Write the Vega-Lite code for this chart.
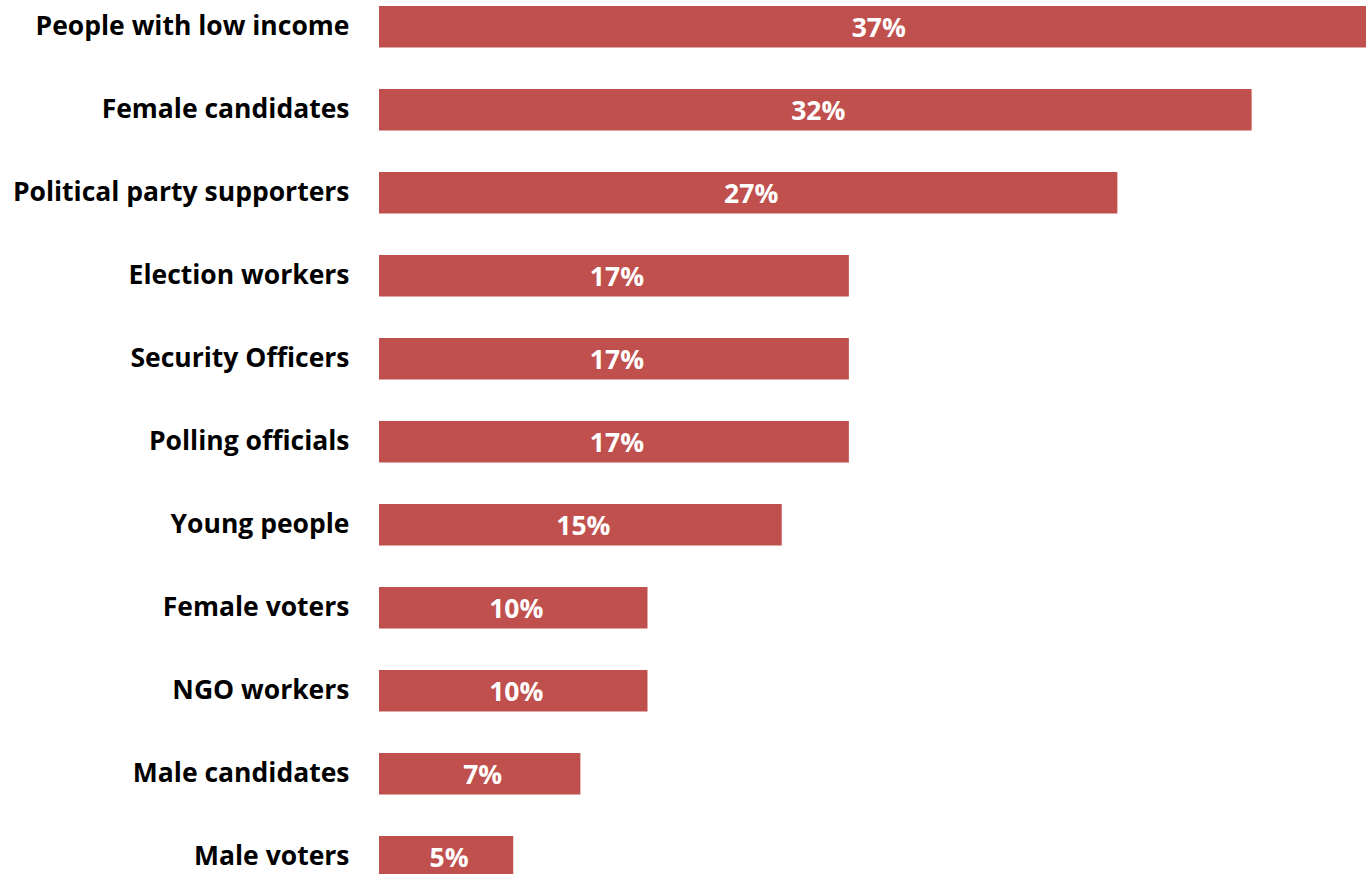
{
  "$schema": "https://vega.github.io/schema/vega-lite/v6.json",
  "autosize": "none",
  "padding": {"left": 379, "top": 0, "right": 0, "bottom": 0},
  "width": 987,
  "height": 874,
  "background": "white",
  "config": {"view": {"stroke": null}, "font": "Open Sans"},
  "data": {"values": [
    {"group": "People with low income", "value": 37, "label": "37%"},
    {"group": "Female candidates", "value": 32.5, "label": "32%"},
    {"group": "Political party supporters", "value": 27.5, "label": "27%"},
    {"group": "Election workers", "value": 17.5, "label": "17%"},
    {"group": "Security Officers", "value": 17.5, "label": "17%"},
    {"group": "Polling officials", "value": 17.5, "label": "17%"},
    {"group": "Young people", "value": 15, "label": "15%"},
    {"group": "Female voters", "value": 10, "label": "10%"},
    {"group": "NGO workers", "value": 10, "label": "10%"},
    {"group": "Male candidates", "value": 7.5, "label": "7%"},
    {"group": "Male voters", "value": 5, "label": "5%"}
  ]},
  "transform": [{"calculate": "datum.value / 2", "as": "mid"}],
  "encoding": {
    "y": {
      "field": "group", "type": "nominal", "sort": null, "title": null,
      "scale": {"range": [0, 883.5], "paddingInner": 0.5, "paddingOuter": 0.0723},
      "axis": {"domain": false, "ticks": false, "labelPadding": 30, "labelFontSize": 26.5, "labelFontWeight": "bold", "labelColor": "black", "labelFont": "Open Sans", "labelLimit": 400}
    }
  },
  "layer": [
    {
      "mark": {"type": "bar", "color": "#C0504D"},
      "encoding": {
        "x": {"field": "value", "type": "quantitative", "scale": {"domain": [0, 36.76], "nice": false}, "axis": null}
      }
    },
    {
      "mark": {"type": "text", "color": "white", "fontSize": 26.5, "fontWeight": "bold", "font": "Open Sans", "align": "center", "baseline": "middle", "dy": 2, "dx": 3},
      "encoding": {
        "x": {"field": "mid", "type": "quantitative"},
        "text": {"field": "label"}
      }
    }
  ]
}
